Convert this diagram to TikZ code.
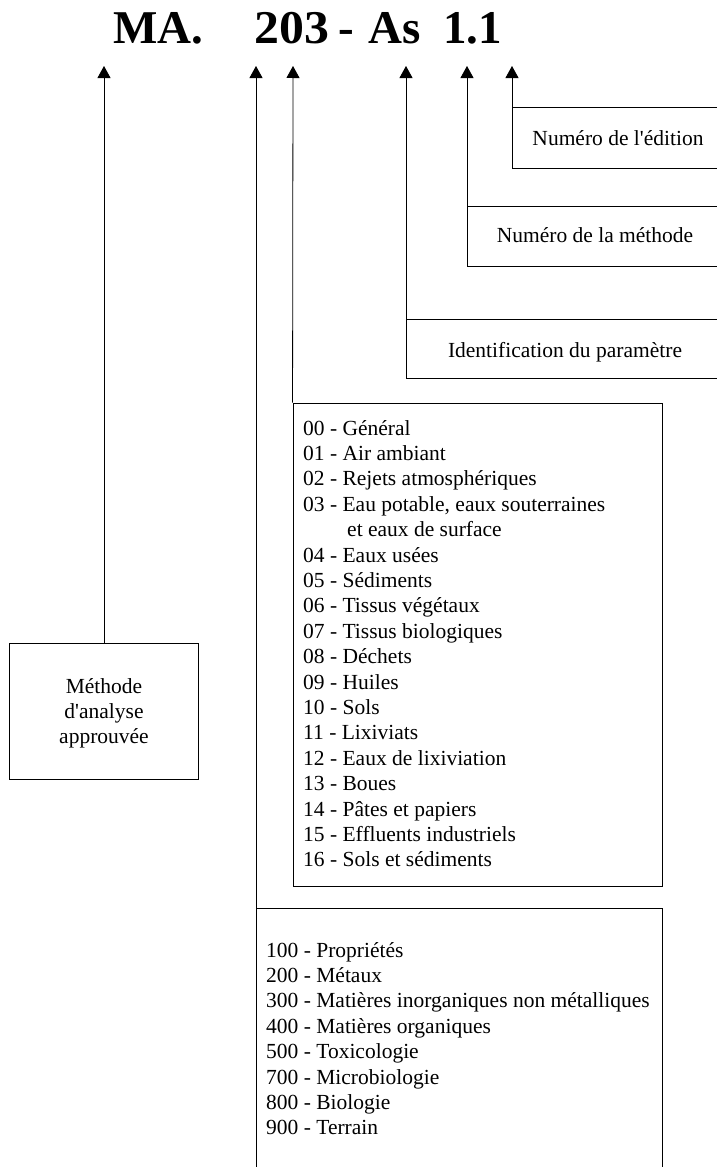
\documentclass[tikz,border=0pt]{standalone}
\usepackage{fontspec}
\defaultfontfeatures[\rmfamily]{}
\setmainfont{Liberation Serif}
\usetikzlibrary{arrows.meta}
\begin{document}
\begin{tikzpicture}[x=1pt,y=-1pt,
  txt/.style={font=\fontsize{21.5}{25.4}\selectfont, inner sep=0pt},
  ttl/.style={font=\fontsize{47}{50}\selectfont\bfseries, inner sep=0pt, anchor=base west},
  box/.style={draw, line width=0.9pt},
  arr/.style={line width=0.8pt, -{Triangle[width=13pt,length=12pt]}},
]
\useasboundingbox (0,0) rectangle (717,1167);
% title
\node[ttl] (tMA) at (113,43) {MA.};
\node[ttl] (t203) at (254,43) {\scalebox{1.06}[1]{203}};
\node[ttl,anchor=base] (tdash) at (346,43) {-};
\node[ttl] (tAs) at (368,43) {As};
\node[ttl] (t11) at (443,43) {1.1};
% arrow tips
\coordinate (p1) at (104,66);
\coordinate (p2) at (256,66);
\coordinate (p3) at (293,66);
\coordinate (p4) at (406,66);
\coordinate (p5) at (467,66);
\coordinate (p6) at (512,66);
% open boxes on the right
\coordinate (c6) at (512,107);
\draw[box] (717,107) -- (c6) -- (512,168) -- (717,168);
\node[txt, anchor=base] (lEd) at (618,145) {Numéro de l'édition};
\coordinate (c5) at (467,206);
\draw[box] (717,206) -- (c5) -- (467,266) -- (717,266);
\node[txt, anchor=base] (lNm) at (595,242) {Numéro de la méthode};
\coordinate (c4) at (406,319);
\draw[box] (717,319) -- (c4) -- (406,378) -- (717,378);
\node[txt, anchor=base] (lId) at (565,357) {Identification du paramètre};
% method box
\node[box, minimum width=189pt, minimum height=136pt, inner sep=0pt] (bMeth) at (104,711) {};
\node[txt, anchor=base] (lM1) at (104,693) {Méthode};
\node[txt, anchor=base] (lM2) at (104,718) {d'analyse};
\node[txt, anchor=base] (lM3) at (104,743) {approuvée};
% middle box
\node[box, minimum width=369pt, minimum height=483pt, inner sep=0pt] (bMid) at (477.5,644.5) {};
\foreach \t [count=\i from 0] in {
  {00 - Général},
  {01 - Air ambiant},
  {02 - Rejets atmosphériques},
  {03 - Eau potable, eaux souterraines},
  {\hspace*{44pt}et eaux de surface},
  {04 - Eaux usées},
  {05 - Sédiments},
  {06 - Tissus végétaux},
  {07 - Tissus biologiques},
  {08 - Déchets},
  {09 - Huiles},
  {10 - Sols},
  {11 - Lixiviats},
  {12 - Eaux de lixiviation},
  {13 - Boues},
  {14 - Pâtes et papiers},
  {15 - Effluents industriels},
  {16 - Sols et sédiments}}
  \node[txt, anchor=base west] (m\i) at (303,435+25.4*\i) {\t};
% bottom box (open at the bottom)
\coordinate (c2) at (256,908);
\draw[box] (256,1167) -- (c2) -- (662,908) -- (662,1167);
\foreach \t [count=\i from 0] in {
  {100 - Propriétés},
  {200 - Métaux},
  {300 - Matières inorganiques non métalliques},
  {400 - Matières organiques},
  {500 - Toxicologie},
  {700 - Microbiologie},
  {800 - Biologie},
  {900 - Terrain}}
  \node[txt, anchor=base west] (n\i) at (266,957+25.4*\i) {\t};
% connectors
\draw[arr] (bMeth.north) -- (p1);
\draw[arr] (c2) -- (p2);
\draw[arr] (bMid.north west) -- (p3);
\draw[arr] (c4) -- (p4);
\draw[arr] (c5) -- (p5);
\draw[arr] (c6) -- (p6);
\end{tikzpicture}
\end{document}
